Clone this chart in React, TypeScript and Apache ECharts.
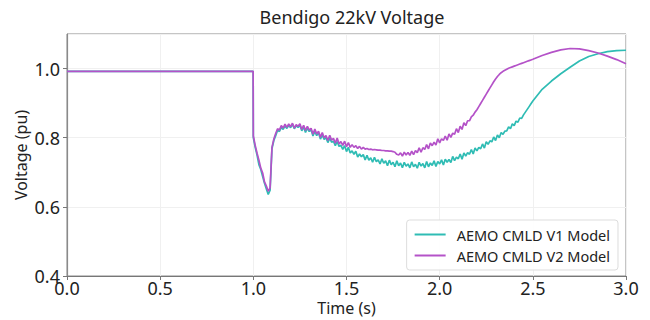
import React, { useEffect, useRef } from "react";
import * as echarts from "echarts";

// Simulation time stamps (s)
const time: number[] = [
  0, 0.999,
  1.00, 1.01, 1.02, 1.03, 1.04, 1.05, 1.06, 1.07, 1.08, 1.09,
  1.10, 1.11, 1.12, 1.13, 1.14, 1.15, 1.16, 1.17, 1.18, 1.19,
  1.20, 1.21, 1.22, 1.23, 1.24, 1.25, 1.26, 1.27, 1.28, 1.29,
  1.30, 1.31, 1.32, 1.33, 1.34, 1.35, 1.36, 1.37, 1.38, 1.39,
  1.40, 1.41, 1.42, 1.43, 1.44, 1.45, 1.46, 1.47, 1.48, 1.49,
  1.50, 1.51, 1.52, 1.53, 1.54, 1.55, 1.56, 1.57, 1.58, 1.59,
  1.60, 1.61, 1.62, 1.63, 1.64, 1.65, 1.66, 1.67, 1.68, 1.69,
  1.70, 1.71, 1.72, 1.73, 1.74, 1.75, 1.76, 1.77, 1.78, 1.79,
  1.80, 1.81, 1.82, 1.83, 1.84, 1.85, 1.86, 1.87, 1.88, 1.89,
  1.90, 1.91, 1.92, 1.93, 1.94, 1.95, 1.96, 1.97, 1.98, 1.99,
  2.00, 2.01, 2.02, 2.03, 2.04, 2.05, 2.06, 2.07, 2.08, 2.09,
  2.10, 2.11, 2.12, 2.13, 2.14, 2.15, 2.16, 2.17, 2.18, 2.19,
  2.20, 2.21, 2.22, 2.23, 2.24, 2.25, 2.26, 2.27, 2.28, 2.29,
  2.30, 2.31, 2.32, 2.33, 2.34, 2.35, 2.36, 2.37, 2.38, 2.39,
  2.40, 2.41, 2.42, 2.43, 2.44, 2.45, 2.46, 2.47, 2.48, 2.49,
  2.50, 2.55, 2.60, 2.65, 2.70, 2.75, 2.80, 2.85, 2.90, 2.95, 3.00,
];

// Bendigo 22kV bus voltage (pu), CMLD V1 load model
const v1Model: number[] = [
  0.992, 0.992,
  0.800, 0.772, 0.750, 0.722, 0.708, 0.688, 0.668, 0.652, 0.636, 0.648,
  0.768, 0.792, 0.806, 0.822, 0.818, 0.830, 0.824, 0.834, 0.827, 0.836,
  0.829, 0.839, 0.826, 0.835, 0.830, 0.836, 0.820, 0.831, 0.815, 0.828,
  0.818, 0.823, 0.805, 0.818, 0.806, 0.814, 0.796, 0.808, 0.795, 0.800,
  0.786, 0.799, 0.787, 0.790, 0.777, 0.789, 0.775, 0.778, 0.766, 0.777,
  0.760, 0.772, 0.756, 0.762, 0.752, 0.761, 0.744, 0.753, 0.745, 0.751,
  0.736, 0.749, 0.735, 0.742, 0.729, 0.743, 0.731, 0.736, 0.724, 0.739,
  0.726, 0.733, 0.719, 0.735, 0.722, 0.729, 0.716, 0.733, 0.719, 0.727,
  0.713, 0.729, 0.718, 0.724, 0.713, 0.730, 0.716, 0.723, 0.712, 0.729,
  0.718, 0.725, 0.713, 0.731, 0.716, 0.727, 0.720, 0.733, 0.717, 0.731,
  0.724, 0.736, 0.721, 0.738, 0.729, 0.737, 0.728, 0.746, 0.734, 0.744,
  0.739, 0.753, 0.738, 0.756, 0.747, 0.757, 0.752, 0.766, 0.753, 0.770,
  0.762, 0.772, 0.768, 0.782, 0.770, 0.788, 0.781, 0.791, 0.788, 0.802,
  0.792, 0.808, 0.800, 0.815, 0.810, 0.819, 0.820, 0.831, 0.826, 0.840,
  0.835, 0.848, 0.845, 0.857, 0.856, 0.866, 0.874, 0.882, 0.890, 0.898,
  0.906, 0.940, 0.964, 0.985, 1.004, 1.022, 1.035, 1.043, 1.049, 1.052, 1.053,
];

// Bendigo 22kV bus voltage (pu), CMLD V2 load model
const v2Model: number[] = [
  0.992, 0.992,
  0.805, 0.778, 0.755, 0.735, 0.712, 0.698, 0.672, 0.660, 0.645, 0.655,
  0.772, 0.796, 0.812, 0.826, 0.822, 0.835, 0.828, 0.839, 0.830, 0.840,
  0.832, 0.842, 0.828, 0.838, 0.833, 0.840, 0.824, 0.836, 0.821, 0.833,
  0.822, 0.827, 0.810, 0.825, 0.811, 0.819, 0.801, 0.815, 0.800, 0.806,
  0.792, 0.807, 0.793, 0.798, 0.784, 0.799, 0.782, 0.789, 0.778, 0.790,
  0.774, 0.786, 0.772, 0.780, 0.772, 0.777, 0.769, 0.775, 0.767, 0.772,
  0.767, 0.769, 0.766, 0.767, 0.765, 0.766, 0.765, 0.764, 0.764, 0.763,
  0.763, 0.762, 0.762, 0.761, 0.761, 0.760, 0.758, 0.752, 0.750, 0.756,
  0.747, 0.758, 0.750, 0.757, 0.749, 0.761, 0.751, 0.763, 0.757, 0.771,
  0.758, 0.771, 0.766, 0.780, 0.768, 0.785, 0.777, 0.787, 0.779, 0.797,
  0.785, 0.797, 0.792, 0.805, 0.793, 0.811, 0.801, 0.813, 0.810, 0.826,
  0.815, 0.833, 0.824, 0.843, 0.835, 0.849, 0.849, 0.860, 0.865, 0.874,
  0.881, 0.890, 0.899, 0.908, 0.917, 0.926, 0.935, 0.944, 0.953, 0.962,
  0.970, 0.977, 0.983, 0.988, 0.992, 0.995, 0.998, 1.001, 1.003, 1.005,
  1.007, 1.009, 1.011, 1.013, 1.015, 1.017, 1.019, 1.021, 1.023, 1.025,
  1.027, 1.038, 1.047, 1.054, 1.058, 1.057, 1.052, 1.045, 1.036, 1.026, 1.014,
];

const seriesNames = ["AEMO CMLD V1 Model", "AEMO CMLD V2 Model"];
const seriesColors = ["#2fbcb4", "#b452c8"];

const FONT = "'Noto Sans', 'Open Sans', sans-serif";

export default function App() {
  const ref = useRef<HTMLDivElement>(null);

  useEffect(() => {
    document.body.style.margin = "0";
    if (!ref.current) return;
    const chart = echarts.init(ref.current, undefined, { renderer: "svg" });
    const pairs = (vals: number[]) => time.map((t, i) => [t, vals[i]]);

    chart.setOption({
      animation: false,
      backgroundColor: "#ffffff",
      textStyle: { fontFamily: FONT },
      title: {
        text: "Bendigo 22kV Voltage",
        left: 347,
        textAlign: "center",
        top: 3,
        textStyle: { fontFamily: FONT, fontSize: 18, fontWeight: "normal", color: "#222" },
      },
      grid: {
        left: 67,
        right: 24,
        top: 34,
        bottom: 44,
        outerBoundsMode: "none",
        containLabel: false,
        show: true,
        borderColor: "#8a8a8a",
        borderWidth: 1,
      },
      legend: {
        orient: "vertical",
        right: 32,
        bottom: 50,
        padding: [6, 8, 6, 8],
        itemGap: 4,
        itemWidth: 31,
        itemHeight: 2,
        icon: "rect",
        borderColor: "#dddddd",
        borderWidth: 1,
        borderRadius: 3,
        backgroundColor: "rgba(255,255,255,0.9)",
        textStyle: {
          fontFamily: FONT,
          fontSize: 14.5,
          lineHeight: 17,
          color: "#222",
          padding: [0, 0, 0, 6],
        },
        data: seriesNames,
      },
      xAxis: {
        type: "value",
        min: 0,
        max: 3,
        interval: 0.5,
        name: "Time (s)",
        nameLocation: "middle",
        nameMoveOverlap: false,
        nameGap: 24,
        nameTextStyle: { fontFamily: FONT, fontSize: 16, color: "#222" },
        axisLine: { show: true, lineStyle: { color: "#777", width: 1.2 } },
        axisTick: { show: true, length: 4, lineStyle: { color: "#777" } },
        axisLabel: {
          fontFamily: FONT,
          fontSize: 18,
          color: "#222",
          margin: 3,
          formatter: (v: number) => v.toFixed(1),
        },
        splitLine: { show: true, lineStyle: { color: "#f0f0f0", width: 1 } },
      },
      yAxis: {
        type: "value",
        min: 0.4,
        max: 1.1,
        interval: 0.2,
        name: "Voltage (pu)",
        nameLocation: "middle",
        nameMoveOverlap: false,
        nameGap: 38,
        nameTextStyle: { fontFamily: FONT, fontSize: 16, color: "#222" },
        axisLine: { show: true, lineStyle: { color: "#8a8a8a", width: 1.2 } },
        axisTick: { show: true, length: 4, lineStyle: { color: "#777" } },
        axisLabel: {
          fontFamily: FONT,
          fontSize: 18,
          color: "#222",
          margin: 7,
          showMaxLabel: false,
          formatter: (v: number) => v.toFixed(1),
        },
        splitLine: { show: true, lineStyle: { color: "#f0f0f0", width: 1 } },
      },
      series: [
        {
          name: seriesNames[0],
          type: "line",
          data: pairs(v1Model),
          symbol: "none",
          showSymbol: false,
          color: seriesColors[0],
          lineStyle: { color: seriesColors[0], width: 1.7 },
          z: 2,
        },
        {
          name: seriesNames[1],
          type: "line",
          data: pairs(v2Model),
          symbol: "none",
          showSymbol: false,
          color: seriesColors[1],
          lineStyle: { color: seriesColors[1], width: 1.7 },
          z: 3,
        },
      ],
    });

    return () => chart.dispose();
  }, []);

  return <div ref={ref} style={{ width: 650, height: 320 }} />;
}
